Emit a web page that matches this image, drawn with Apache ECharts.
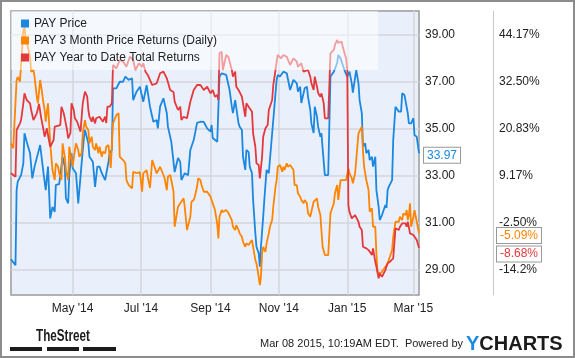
<!DOCTYPE html>
<html><head><meta charset="utf-8">
<script src="https://cdn.jsdelivr.net/npm/echarts@6/dist/echarts.min.js"></script>
<style>html,body{margin:0;padding:0;background:#fff}#c{width:575px;height:358px}</style>
</head><body><div id="c"></div>
<script>
const seriesNames = ['PAY Price', 'PAY 3 Month Price Returns (Daily)', 'PAY Year to Date Total Returns'];
const seriesColors = ['#1a87e0', '#ff8400', '#e5383b'];
const priceTicks = [29, 31, 33, 35, 37, 39];
const pctTicks = [-14.17, -2.50, 9.17, 20.83, 32.50, 44.17];
const monthTicks = ['2014-05-01', '2014-07-01', '2014-09-01', '2014-11-01', '2015-01-01', '2015-03-01'];
const monthNames = ['Jan','Feb','Mar','Apr','May','Jun','Jul','Aug','Sep','Oct','Nov','Dec'];
const xRange = ['2014-03-07', '2015-03-06'];
const priceRange = [27.94, 40.02];
const pctRange = [-20.355, 50.132];
const lastLabels = ['33.97', '-5.09%', '-8.68%'];

const price = [
['2014-03-07',29.46],['2014-03-11',29.21],['2014-03-12',32.40],['2014-03-13',32.76],['2014-03-16',33.04],['2014-03-18',33.54],
['2014-03-19',34.82],['2014-03-21',34.46],['2014-03-24',33.97],['2014-03-26',32.90],['2014-03-28',33.40],['2014-04-02',34.32],
['2014-04-05',33.12],['2014-04-07',32.40],['2014-04-09',33.40],['2014-04-11',31.20],['2014-04-13',31.69],['2014-04-15',31.48],
['2014-04-16',32.62],['2014-04-19',32.66],['2014-04-22',33.82],['2014-04-24',33.40],['2014-04-25',32.05],['2014-04-27',31.84],
['2014-04-28',33.04],['2014-04-30',33.97],['2014-05-01',33.33],['2014-05-04',33.12],['2014-05-06',31.84],['2014-05-09',33.54],
['2014-05-11',34.60],['2014-05-12',34.96],['2014-05-15',34.39],['2014-05-16',33.82],['2014-05-19',33.61],['2014-05-21',32.54],
['2014-05-23',33.40],['2014-05-25',33.40],['2014-05-27',33.12],['2014-05-30',32.83],['2014-06-02',33.61],['2014-06-03',33.97],
['2014-06-05',34.11],['2014-06-06',36.73],['2014-06-09',36.73],['2014-06-12',37.01],['2014-06-15',37.01],['2014-06-17',37.23],
['2014-06-20',37.09],['2014-06-23',37.16],['2014-06-24',36.23],['2014-06-27',36.59],['2014-06-30',36.80],['2014-07-03',36.16],
['2014-07-06',36.87],['2014-07-09',35.95],['2014-07-12',35.31],['2014-07-15',35.38],['2014-07-16',35.03],['2014-07-18',35.95],
['2014-07-21',36.31],['2014-07-24',35.67],['2014-07-25',35.10],['2014-07-28',34.46],['2014-07-31',33.17],['2014-08-03',33.77],
['2014-08-05',33.60],['2014-08-06',32.83],['2014-08-09',33.12],['2014-08-12',33.04],['2014-08-14',34.11],['2014-08-17',34.53],
['2014-08-20',35.26],['2014-08-23',35.31],['2014-08-26',35.30],['2014-08-29',35.03],['2014-09-01',34.89],['2014-09-02',35.17],
['2014-09-03',34.62],['2014-09-07',34.46],['2014-09-08',34.53],['2014-09-09',37.23],['2014-09-11',37.37],['2014-09-15',37.30],
['2014-09-18',36.66],['2014-09-20',35.95],['2014-09-21',35.68],['2014-09-23',36.23],['2014-09-26',35.24],['2014-09-27',35.10],
['2014-09-29',34.96],['2014-09-30',33.82],['2014-10-02',33.26],['2014-10-03',34.11],['2014-10-05',34.02],['2014-10-06',33.40],
['2014-10-08',33.12],['2014-10-09',31.98],['2014-10-11',30.56],['2014-10-12',29.99],['2014-10-14',29.71],['2014-10-15',29.14],
['2014-10-16',29.99],['2014-10-18',31.27],['2014-10-19',31.98],['2014-10-21',33.26],['2014-10-23',33.12],['2014-10-26',34.82],
['2014-10-29',36.52],['2014-10-30',37.09],['2014-10-31',37.30],['2014-11-02',37.23],['2014-11-05',37.44],['2014-11-08',37.37],
['2014-11-11',36.66],['2014-11-14',37.09],['2014-11-17',36.94],['2014-11-18',36.59],['2014-11-20',36.80],['2014-11-21',36.11],
['2014-11-23',36.52],['2014-11-24',36.73],['2014-11-26',36.80],['2014-11-27',36.37],['2014-11-29',35.81],['2014-11-30',35.24],
['2014-12-02',34.83],['2014-12-03',35.95],['2014-12-05',35.52],['2014-12-06',35.10],['2014-12-08',34.67],['2014-12-09',34.82],
['2014-12-10',34.18],['2014-12-12',33.04],['2014-12-15',33.04],['2014-12-17',37.23],['2014-12-18',37.16],['2014-12-20',37.44],
['2014-12-23',37.81],['2014-12-24',38.15],['2014-12-26',38.01],['2014-12-28',37.72],['2014-12-30',37.44],['2015-01-01',37.23],
['2015-01-02',37.30],['2015-01-03',37.44],['2015-01-05',36.94],['2015-01-06',36.55],['2015-01-09',37.51],['2015-01-11',36.94],
['2015-01-12',36.23],['2015-01-14',35.67],['2015-01-15',34.25],['2015-01-17',34.39],['2015-01-18',33.97],['2015-01-20',34.11],
['2015-01-21',33.68],['2015-01-23',33.82],['2015-01-24',33.40],['2015-01-26',33.82],['2015-01-27',32.40],['2015-01-29',31.69],
['2015-01-30',31.13],['2015-02-01',31.34],['2015-02-02',31.34],['2015-02-04',31.77],['2015-02-05',31.64],['2015-02-06',32.40],
['2015-02-07',32.54],['2015-02-10',32.83],['2015-02-11',34.53],['2015-02-13',35.95],['2015-02-14',35.95],['2015-02-16',35.74],
['2015-02-18',35.74],['2015-02-19',36.52],['2015-02-21',36.45],['2015-02-22',36.37],['2015-02-24',35.67],['2015-02-25',35.24],
['2015-02-27',35.24],['2015-03-01',35.46],['2015-03-02',34.74],['2015-03-04',34.67],['2015-03-06',33.97]
];

const ret3m = [
['2014-03-07',17.29],['2014-03-09',16.05],['2014-03-10',15.62],['2014-03-12',33.01],['2014-03-13',33.75],['2014-03-15',32.58],
['2014-03-16',33.01],['2014-03-18',45.42],['2014-03-19',46.17],['2014-03-20',43.43],['2014-03-21',42.44],['2014-03-22',41.27],
['2014-03-24',38.79],['2014-03-25',35.07],['2014-03-27',35.49],['2014-03-28',33.83],['2014-03-30',28.86],['2014-03-31',27.22],
['2014-04-02',33.01],['2014-04-03',31.27],['2014-04-05',27.22],['2014-04-06',25.56],['2014-04-07',22.65],['2014-04-09',27.22],
['2014-04-11',17.29],['2014-04-12',13.96],['2014-04-13',10.66],['2014-04-15',8.18],['2014-04-16',12.32],['2014-04-18',11.48],
['2014-04-19',9.84],['2014-04-21',8.18],['2014-04-22',17.29],['2014-04-24',13.96],['2014-04-25',10.66],['2014-04-27',8.18],
['2014-04-28',16.44],['2014-04-30',13.14],['2014-05-01',11.48],['2014-05-03',15.62],['2014-05-04',17.29],['2014-05-06',15.62],
['2014-05-07',13.96],['2014-05-09',14.81],['2014-05-10',19.77],['2014-05-12',23.07],['2014-05-13',21.41],['2014-05-15',20.59],
['2014-05-16',17.29],['2014-05-18',18.93],['2014-05-19',16.44],['2014-05-21',15.62],['2014-05-22',17.29],['2014-05-24',14.81],
['2014-05-25',16.44],['2014-05-27',13.96],['2014-05-28',15.20],['2014-05-30',14.81],['2014-05-31',16.44],['2014-06-02',16.87],
['2014-06-03',13.96],['2014-06-04',11.16],['2014-06-06',22.25],['2014-06-09',24.32],['2014-06-11',24.74],['2014-06-12',13.96],
['2014-06-15',13.14],['2014-06-17',12.32],['2014-06-18',8.18],['2014-06-20',6.93],['2014-06-23',6.11],['2014-06-24',10.24],
['2014-06-27',9.91],['2014-06-30',10.16],['2014-07-02',5.27],['2014-07-03',9.84],['2014-07-06',10.66],['2014-07-07',9.00],
['2014-07-09',6.19],['2014-07-11',13.14],['2014-07-12',12.32],['2014-07-15',9.84],['2014-07-18',11.48],['2014-07-21',9.42],
['2014-07-22',8.67],['2014-07-24',5.69],['2014-07-25',9.00],['2014-07-27',9.42],['2014-07-28',8.18],['2014-07-30',5.27],
['2014-07-31',-3.42],['2014-08-02',-0.09],['2014-08-03',1.55],['2014-08-05',2.39],['2014-08-06',2.39],['2014-08-08',3.63],
['2014-08-09',1.55],['2014-08-11',-4.24],['2014-08-12',-4.24],['2014-08-14',-0.94],['2014-08-15',2.79],['2014-08-17',3.21],
['2014-08-18',4.03],['2014-08-20',6.51],['2014-08-21',8.60],['2014-08-23',8.18],['2014-08-24',6.93],['2014-08-26',5.27],
['2014-08-29',5.27],['2014-09-01',4.03],['2014-09-02',3.21],['2014-09-03',3.21],['2014-09-05',0.73],['2014-09-07',-2.75],
['2014-09-08',-6.30],['2014-09-09',-0.94],['2014-09-11',0.73],['2014-09-12',0.23],['2014-09-15',0.73],['2014-09-17',-0.02],
['2014-09-18',-0.09],['2014-09-20',-1.76],['2014-09-21',-3.42],['2014-09-23',-4.24],['2014-09-24',-3.00],['2014-09-26',-4.24],
['2014-09-27',-5.06],['2014-09-29',-5.90],['2014-09-30',-7.14],['2014-10-02',-8.39],['2014-10-03',-7.54],['2014-10-05',-7.96],
['2014-10-06',-7.96],['2014-10-08',-6.72],['2014-10-09',-8.39],['2014-10-11',-11.69],['2014-10-12',-12.51],['2014-10-14',-15.83],
['2014-10-15',-17.90],['2014-10-16',-15.83],['2014-10-17',-10.02],['2014-10-18',-8.39],['2014-10-20',-9.63],['2014-10-21',-7.54],
['2014-10-23',-5.06],['2014-10-24',-3.42],['2014-10-26',-1.76],['2014-10-27',1.55],['2014-10-29',6.51],['2014-10-30',8.18],
['2014-10-31',11.48],['2014-11-02',11.90],['2014-11-04',10.24],['2014-11-05',11.48],['2014-11-06',10.66],['2014-11-08',12.32],
['2014-11-09',11.48],['2014-11-11',11.90],['2014-11-12',11.48],['2014-11-14',10.66],['2014-11-15',6.93],['2014-11-17',6.93],
['2014-11-18',4.88],['2014-11-20',4.03],['2014-11-21',3.21],['2014-11-23',2.39],['2014-11-24',3.21],['2014-11-26',2.39],
['2014-11-27',-0.09],['2014-11-29',-0.94],['2014-11-30',-0.51],['2014-12-02',2.79],['2014-12-03',3.21],['2014-12-05',3.63],
['2014-12-06',1.55],['2014-12-08',-0.51],['2014-12-10',-8.39],['2014-12-12',-10.45],['2014-12-15',-10.45],['2014-12-17',-0.09],
['2014-12-18',0.73],['2014-12-20',2.39],['2014-12-21',4.88],['2014-12-23',6.93],['2014-12-24',3.21],['2014-12-26',8.18],
['2014-12-28',8.18],['2014-12-31',8.18],['2015-01-02',11.08],['2015-01-03',9.84],['2015-01-05',8.67],['2015-01-06',7.36],
['2015-01-08',9.84],['2015-01-09',13.14],['2015-01-11',19.77],['2015-01-12',20.17],['2015-01-14',21.41],['2015-01-15',15.62],
['2015-01-16',11.48],['2015-01-17',9.84],['2015-01-18',8.18],['2015-01-20',5.69],['2015-01-21',0.31],['2015-01-23',1.15],
['2015-01-24',-3.42],['2015-01-26',-3.42],['2015-01-27',-10.02],['2015-01-28',-14.59],['2015-01-29',-14.67],['2015-01-30',-14.99],
['2015-02-01',-14.59],['2015-02-02',-14.99],['2015-02-04',-13.35],['2015-02-06',-12.51],['2015-02-08',-10.87],['2015-02-10',-9.21],
['2015-02-11',-5.90],['2015-02-13',-2.18],['2015-02-14',-2.18],['2015-02-16',-2.18],['2015-02-17',-0.94],['2015-02-19',-1.76],
['2015-02-20',-0.09],['2015-02-22',-0.51],['2015-02-23',0.73],['2015-02-24',-1.76],['2015-02-25',-0.51],['2015-02-26',2.39],
['2015-02-27',-3.42],['2015-03-01',-0.94],['2015-03-02',0.73],['2015-03-04',-2.18],['2015-03-06',-5.09]
];

const ytd = [
['2014-03-07',9.84],['2014-03-11',9.00],['2014-03-12',20.59],['2014-03-15',22.25],['2014-03-16',23.07],['2014-03-18',27.22],
['2014-03-19',29.70],['2014-03-21',28.04],['2014-03-22',28.04],['2014-03-24',27.22],['2014-03-25',25.56],['2014-03-27',23.07],
['2014-03-30',24.74],['2014-04-01',27.05],['2014-04-03',23.50],['2014-04-05',20.59],['2014-04-06',18.93],['2014-04-08',21.01],
['2014-04-09',19.35],['2014-04-11',16.44],['2014-04-14',18.11],['2014-04-15',21.41],['2014-04-20',21.83],['2014-04-21',26.38],
['2014-04-23',24.81],['2014-04-24',23.50],['2014-04-26',20.59],['2014-04-27',18.53],['2014-04-29',19.85],['2014-04-30',27.22],
['2014-05-02',25.56],['2014-05-03',23.50],['2014-05-05',22.65],['2014-05-06',22.25],['2014-05-08',20.17],['2014-05-09',19.77],
['2014-05-10',27.22],['2014-05-12',30.10],['2014-05-14',28.86],['2014-05-15',25.56],['2014-05-16',23.89],['2014-05-18',22.65],
['2014-05-19',23.89],['2014-05-21',22.25],['2014-05-22',23.50],['2014-05-25',23.89],['2014-05-28',22.65],['2014-05-30',23.89],
['2014-05-31',22.33],['2014-06-01',26.38],['2014-06-03',26.38],['2014-06-05',27.22],['2014-06-06',36.73],['2014-06-09',35.91],
['2014-06-12',37.97],['2014-06-15',37.55],['2014-06-18',36.31],['2014-06-21',38.79],['2014-06-24',37.97],['2014-06-26',35.49],
['2014-06-29',37.15],['2014-07-02',36.31],['2014-07-03',37.15],['2014-07-05',35.07],['2014-07-07',34.25],['2014-07-11',31.76],
['2014-07-15',32.19],['2014-07-18',34.67],['2014-07-21',35.07],['2014-07-24',33.43],['2014-07-27',30.52],['2014-07-30',30.03],
['2014-07-31',27.62],['2014-08-03',25.56],['2014-08-05',26.38],['2014-08-06',23.07],['2014-08-08',23.89],['2014-08-11',23.50],
['2014-08-14',27.62],['2014-08-17',30.52],['2014-08-20',31.76],['2014-08-23',31.76],['2014-08-26',30.52],['2014-08-29',31.34],
['2014-09-01',29.70],['2014-09-03',30.52],['2014-09-05',28.86],['2014-09-07',29.28],['2014-09-08',28.04],['2014-09-09',39.64],
['2014-09-11',40.03],['2014-09-12',35.49],['2014-09-15',39.21],['2014-09-17',38.72],['2014-09-18',38.39],['2014-09-20',35.49],
['2014-09-21',33.83],['2014-09-23',35.07],['2014-09-24',31.34],['2014-09-26',30.52],['2014-09-27',30.94],['2014-09-29',28.86],
['2014-09-30',27.22],['2014-10-02',23.89],['2014-10-03',27.22],['2014-10-05',26.38],['2014-10-06',26.80],['2014-10-08',25.13],
['2014-10-09',19.77],['2014-10-11',16.44],['2014-10-12',12.32],['2014-10-14',11.90],['2014-10-15',8.60],['2014-10-17',13.96],
['2014-10-18',18.93],['2014-10-20',21.01],['2014-10-22',21.83],['2014-10-23',25.56],['2014-10-26',28.04],['2014-10-27',31.76],
['2014-10-29',35.49],['2014-10-30',37.55],['2014-10-31',39.21],['2014-11-03',38.39],['2014-11-05',39.21],['2014-11-08',38.79],
['2014-11-11',36.73],['2014-11-14',38.39],['2014-11-17',37.55],['2014-11-18',36.31],['2014-11-21',37.15],['2014-11-23',35.07],
['2014-11-24',35.07],['2014-11-27',35.49],['2014-11-29',33.83],['2014-11-30',32.19],['2014-12-02',30.52],['2014-12-03',33.83],
['2014-12-05',31.34],['2014-12-06',29.78],['2014-12-08',28.86],['2014-12-09',29.70],['2014-12-11',27.22],['2014-12-12',23.50],
['2014-12-15',23.50],['2014-12-17',39.64],['2014-12-20',40.46],['2014-12-21',41.70],['2014-12-23',42.94],['2014-12-24',42.19],
['2014-12-25',42.12],['2014-12-27',42.52],['2014-12-28',41.27],['2014-12-30',39.21],['2014-12-31',38.39],['2015-01-01',35.49],
['2015-01-02',1.97],['2015-01-03',0.23],['2015-01-05',-1.33],['2015-01-06',-1.76],['2015-01-08',-0.51],['2015-01-09',-0.09],
['2015-01-11',-2.18],['2015-01-12',-3.42],['2015-01-14',-4.24],['2015-01-15',-8.39],['2015-01-18',-8.78],['2015-01-20',-9.21],
['2015-01-21',-9.70],['2015-01-23',-10.45],['2015-01-24',-8.78],['2015-01-26',-12.11],['2015-01-27',-13.35],['2015-01-29',-16.23],
['2015-01-30',-14.99],['2015-02-01',-15.83],['2015-02-02',-15.41],['2015-02-04',-14.17],['2015-02-06',-12.51],['2015-02-08',-12.11],
['2015-02-11',-11.27],['2015-02-13',-3.82],['2015-02-14',-3.82],['2015-02-16',-4.24],['2015-02-17',-3.42],['2015-02-19',-2.58],
['2015-02-20',-2.58],['2015-02-22',-2.58],['2015-02-23',-3.42],['2015-02-24',-2.18],['2015-02-26',-5.06],['2015-02-27',-5.06],
['2015-03-01',-5.48],['2015-03-02',-5.06],['2015-03-04',-6.72],['2015-03-06',-8.68]
];

const FONT = 'Arial, "Liberation Sans", sans-serif';
function toTs(s) { const p = s.split('-').map(Number); return new Date(p[0], p[1] - 1, p[2]).getTime(); }
function toPoints(list) { return list.map(function (d) { return [toTs(d[0]), d[1]]; }); }
const monthTickTs = monthTicks.map(toTs);
function pctFmt(v) { let s = v.toFixed(2); if (s.length > 5) s = v.toFixed(1); return s + '%'; }

function tag(color, text, dist, dy) {
  return {
    show: true, formatter: text, color: color, fontSize: 12, fontFamily: FONT,
    backgroundColor: '#fff', borderColor: '#999', borderWidth: 1, padding: [2, 3, 1, 3],
    distance: dist, offset: [0, dy]
  };
}

const chart = echarts.init(document.getElementById('c'), null, { renderer: 'canvas' });
chart.setOption({
  animation: false,
  backgroundColor: '#fff',
  textStyle: { fontFamily: FONT },
  grid: { left: 11, right: 156, top: 11, bottom: 63, show: true, backgroundColor: '#eaf0fb', borderColor: '#9a9a9a', borderWidth: 1.5 },
  legend: {
    data: seriesNames, orient: 'vertical', left: 21, top: 17, padding: 0,
    itemWidth: 8, itemHeight: 8, itemGap: 4, icon: 'rect', z: 10,
    textStyle: { fontSize: 12, color: '#222', lineHeight: 13, fontFamily: FONT }
  },
  xAxis: {
    type: 'value', min: toTs(xRange[0]), max: toTs(xRange[1]),
    axisLine: { show: false },
    axisTick: { show: false, customValues: monthTickTs },
    axisLabel: {
      customValues: monthTickTs, color: '#222', fontSize: 12, margin: 8, fontFamily: FONT,
      formatter: function (v) { const d = new Date(v); return monthNames[d.getMonth()] + " '" + String(d.getFullYear()).slice(2); }
    },
    splitLine: { show: true, lineStyle: { color: '#d2d6dc', width: 1.5 } }
  },
  yAxis: [
    {
      type: 'value', position: 'right', min: priceRange[0], max: priceRange[1],
      axisLine: { show: false },
      axisTick: { show: false, customValues: priceTicks },
      axisLabel: { customValues: priceTicks, color: '#222', fontSize: 12, margin: 6, fontFamily: FONT, formatter: function (v) { return v.toFixed(2); } },
      splitLine: { show: true, lineStyle: { color: '#d2d6dc', width: 1.5 } }
    },
    {
      type: 'value', position: 'right', offset: 74, min: pctRange[0], max: pctRange[1],
      axisLine: { show: true, lineStyle: { color: '#c8c8c8', width: 1 } },
      axisTick: { show: false, customValues: pctTicks },
      axisLabel: { customValues: pctTicks, color: '#222', fontSize: 12, margin: 6, fontFamily: FONT, formatter: pctFmt },
      splitLine: { show: false }
    }
  ],
  series: [
    { name: seriesNames[0], type: 'line', yAxisIndex: 0, data: toPoints(price), symbol: 'none', color: seriesColors[0], lineStyle: { width: 1.8 }, z: 2, endLabel: tag(seriesColors[0], lastLabels[0], 5, 2) },
    { name: seriesNames[1], type: 'line', yAxisIndex: 1, data: toPoints(ret3m), symbol: 'none', color: seriesColors[1], lineStyle: { width: 1.8 }, z: 2, endLabel: tag(seriesColors[1], lastLabels[1], 78, 2) },
    { name: seriesNames[2], type: 'line', yAxisIndex: 1, data: toPoints(ytd), symbol: 'none', color: seriesColors[2], lineStyle: { width: 1.8 }, z: 2, endLabel: tag(seriesColors[2], lastLabels[2], 78, 6) }
  ],
  graphic: [
    { type: 'rect', z: 5, silent: true, shape: { x: 11, y: 11, width: 367, height: 59 }, style: { fill: 'rgba(255,255,255,0.5)' } },
    { type: 'rect', z: 20, silent: true, shape: { x: 1, y: 1, width: 573, height: 356 }, style: { fill: 'none', stroke: '#8c8c8c', lineWidth: 2 } },
    { type: 'text', z: 20, x: 260, y: 338, style: { text: 'Mar 08 2015, 10:19AM EDT.  Powered by', fill: '#222', font: '11px ' + FONT } },
    { type: 'text', z: 20, x: 466, y: 334, style: { text: '{y|Y}{c|CHARTS}', rich: { y: { fontSize: 20, fontWeight: 'bold', fill: '#1a8ae6', fontFamily: FONT }, c: { fontSize: 20, fontWeight: 'bold', fill: '#1b1b1b', fontFamily: FONT } } } },
    { type: 'text', z: 20, x: 36, y: 329, scaleX: 0.73, style: { text: 'TheStreet', fill: '#1b1b1b', font: 'bold 16px Arial, "Liberation Sans", sans-serif' } },
    { type: 'rect', z: 20, shape: { x: 10, y: 347, width: 32, height: 4 }, style: { fill: '#1b1b1b' } },
    { type: 'rect', z: 20, shape: { x: 47, y: 347, width: 32, height: 4 }, style: { fill: '#1b1b1b' } },
    { type: 'rect', z: 20, shape: { x: 83, y: 347, width: 33, height: 4 }, style: { fill: '#1b1b1b' } }
  ]
});
</script>
</body></html>
